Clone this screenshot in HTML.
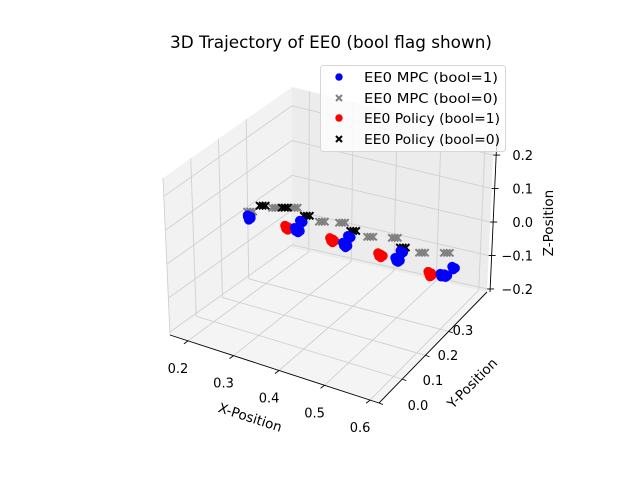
<!DOCTYPE html>
<html><head><meta charset="utf-8"><style>
html,body{margin:0;padding:0;background:#fff;}
svg{display:block;font-family:"DejaVu Sans","Liberation Sans",sans-serif;}
</style></head><body>
<svg id="chart" width="640" height="480" viewBox="0 0 640 480" xmlns="http://www.w3.org/2000/svg">
<text x="331" y="48" font-size="16.5" text-anchor="middle" textLength="322" lengthAdjust="spacingAndGlyphs">3D Trajectory of EE0 (bool flag shown)</text>
<g id="panes"></g>
<g id="grid"></g>
<g id="axes"></g>
<g id="marks"></g>
<text x="250" y="422" font-size="13.5" text-anchor="middle" transform="rotate(18 250 418)">X-Position</text>
<text x="472" y="388" font-size="13.5" text-anchor="middle" transform="rotate(-45 472 383)">Y-Position</text>
<text x="548" y="228" font-size="13.5" text-anchor="middle" transform="rotate(-90 548 223)">Z-Position</text>
<g>
<rect x="320.5" y="65.5" width="185" height="86" rx="3" fill="#fff" fill-opacity="0.8" stroke="#d6d6d6"/>
<g><circle cx="339" cy="77" r="3.7" fill="#0000ff"/><text x="364" y="82" font-size="13" textLength="134" lengthAdjust="spacingAndGlyphs">EE0 MPC (bool=1)</text></g>
<g><path d="M336 95 l6 6 M342 95 l-6 6" stroke="#808080" stroke-width="2"/><text x="364" y="103" font-size="13" textLength="134" lengthAdjust="spacingAndGlyphs">EE0 MPC (bool=0)</text></g>
<g><circle cx="339" cy="118" r="3.7" fill="#ff0000"/><text x="364" y="123" font-size="13" textLength="136" lengthAdjust="spacingAndGlyphs">EE0 Policy (bool=1)</text></g>
<g><path d="M336 136 l6 6 M342 136 l-6 6" stroke="#000" stroke-width="2"/><text x="364" y="144" font-size="13" textLength="136" lengthAdjust="spacingAndGlyphs">EE0 Policy (bool=0)</text></g>
</g>
</svg>
<script>
// ---- data ----
const xTicks = [0.2, 0.3, 0.4, 0.5, 0.6];
const yTicks = [0.0, 0.1, 0.2, 0.3];
const zTicks = [-0.2, -0.1, 0.0, 0.1, 0.2];
const xTickLabels = ["0.2", "0.3", "0.4", "0.5", "0.6"];
const yTickLabels = ["0.0", "0.1", "0.2", "0.3"];
const zTickLabels = ["\u22120.2", "\u22120.1", "0.0", "0.1", "0.2"];
const mpc1X = [0.184, 0.180, 0.287, 0.280, 0.295, 0.401, 0.395, 0.408, 0.522, 0.517, 0.528, 0.640, 0.639, 0.632];
const mpc1Y = [0.262, 0.268, 0.266, 0.298, 0.262, 0.257, 0.287, 0.252, 0.251, 0.281, 0.248, 0.238, 0.272, 0.236];
const mpc1Z = [0, 0, 0, 0, 0, 0, 0, 0, 0, 0, 0, 0, 0, 0];
const pol1X = [0.182, 0.266, 0.272, 0.369, 0.375, 0.483, 0.489, 0.607, 0.612];
const pol1Y = [0.265, 0.265, 0.262, 0.262, 0.258, 0.252, 0.249, 0.232, 0.226];
const pol1Z = [0, 0, 0, 0, 0, 0, 0, 0, 0];
const mpc0X = [0.176, 0.209, 0.242, 0.320, 0.357, 0.436, 0.481, 0.559, 0.603];
const mpc0Y = [0.284, 0.323, 0.342, 0.315, 0.330, 0.304, 0.323, 0.294, 0.316];
const mpc0Z = [0, 0, 0, 0, 0, 0, 0, 0, 0];
const pol0X = [0.183, 0.225, 0.281, 0.394, 0.515];
const pol0Y = [0.319, 0.333, 0.323, 0.310, 0.295];
const pol0Z = [0, 0, 0, 0, 0];

// ---- projection ----
const xLim = [0.1605, 0.6195], yLim = [0.0, 0.465], zLim = [-0.209, 0.254];
const C = {
  c000:[170,335], c100:[379,403], c110:[487,292], c010:[292,248],
  c001:[163,178], c101:[376,228], c111:[494,137], c011:[292,87]
};
function tri(u,v,w){
  const r=[0,0];
  for(let i=0;i<2;i++){
    const a=C.c000[i]*(1-u)+C.c100[i]*u, b=C.c010[i]*(1-u)+C.c110[i]*u;
    const c=C.c001[i]*(1-u)+C.c101[i]*u, d=C.c011[i]*(1-u)+C.c111[i]*u;
    const e=a*(1-v)+b*v, f=c*(1-v)+d*v;
    r[i]=e*(1-w)+f*w;
  }
  return r;
}
const nx = x => (x-xLim[0])/(xLim[1]-xLim[0]);
const ny = y => (y-yLim[0])/(yLim[1]-yLim[0]);
const nz = z => (z-zLim[0])/(zLim[1]-zLim[0]);
function proj(x,y,z){ return tri(nx(x),ny(y),nz(z)); }

const NS="http://www.w3.org/2000/svg";
function mk(tag, parent, attrs){
  const el=document.createElementNS(NS,tag);
  for(const k in attrs) el.setAttribute(k,attrs[k]);
  parent.appendChild(el); return el;
}
const pts = a => a.map(p=>p[0].toFixed(1)+","+p[1].toFixed(1)).join(" ");

// panes
const panes=document.getElementById('panes');
let p;
p=mk('polygon',panes,{points:pts([C.c000,C.c010,C.c011,C.c001]),fill:'#f2f2f2'});


p=mk('polygon',panes,{points:pts([C.c010,C.c110,C.c111,C.c011]),fill:'#ececec'});


p=mk('polygon',panes,{points:pts([C.c000,C.c100,C.c110,C.c010]),fill:'#f4f4f4'});



// grid
const grid=document.getElementById('grid');
function gl(a,b,name){
  const l=mk('line',grid,{x1:a[0],y1:a[1],x2:b[0],y2:b[1],stroke:'#d0d0d0','stroke-width':0.9});
  
  
}
xTicks.forEach(t=>{ const u=nx(t);
  gl(tri(u,0,0),tri(u,1,0),'x-gridline'); gl(tri(u,1,0),tri(u,1,1),'x-gridline'); });
yTicks.forEach(t=>{ const v=ny(t);
  gl(tri(0,v,0),tri(1,v,0),'y-gridline'); gl(tri(0,v,0),tri(0,v,1),'y-gridline'); });
zTicks.forEach(t=>{ const w=nz(t);
  gl(tri(0,0,w),tri(0,1,w),'z-gridline'); gl(tri(0,1,w),tri(1,1,w),'z-gridline'); });

// axes
const axes=document.getElementById('axes');
function al(a,b,name){
  const l=mk('line',axes,{x1:a[0],y1:a[1],x2:b[0],y2:b[1],stroke:'#000','stroke-width':0.9});
  
  
}
function tl(x,y,txt,name,anchor){
  const t=mk('text',axes,{x:x,y:y,'font-size':13,'text-anchor':anchor||'middle'});
  t.textContent=txt;
  
  
}
al(C.c000,C.c100,'x-axis-line');
al(C.c100,C.c110,'y-axis-line');
const zA=[C.c110[0]+3,C.c110[1]], zB=[C.c111[0]+3,C.c111[1]];
al(zA,zB,'z-axis-line');
xTicks.forEach((t,i)=>{ const a=tri(nx(t),0,0);
  al(a,[a[0]-4,a[1]+3],'x-tick');
  tl(a[0]-10,a[1]+32,xTickLabels[i],'x-tick-label'); });
yTicks.forEach((t,i)=>{ const a=tri(1,ny(t),0);
  al(a,[a[0]+4,a[1]+1.5],'y-tick');
  const lx=418+(t-0)/0.3*(463-418), ly=405+(t-0)/0.3*(330-405);
  tl(lx,ly+5,yTickLabels[i],'y-tick-label'); });
zTicks.forEach((t,i)=>{ const w=nz(t); const a=[zA[0]+(zB[0]-zA[0])*w, zA[1]+(zB[1]-zA[1])*w];
  al([a[0]-3,a[1]],[a[0]+4,a[1]],'z-tick');
  tl(533,a[1]+5,zTickLabels[i],'z-tick-label','end'); });

// marks
const marks=document.getElementById('marks');
function dots(X,Y,Z,color,name){
  const g=mk('g',marks,{});
  
  
  X.forEach((x,i)=>{ const q=proj(x,Y[i],Z[i]);
    [[0,0],[3,1.5],[1,3]].forEach(o=>{
      const c=mk('circle',g,{cx:(q[0]+o[0]).toFixed(1),cy:(q[1]+o[1]).toFixed(1),r:4.8,fill:color});
      
      
    });
  });
}
function crosses(X,Y,Z,color,name){
  const g=mk('g',marks,{});
  
  
  X.forEach((x,i)=>{ const q=proj(x,Y[i],Z[i]);
    [-3,0,3].forEach(dx=>{
      const cx=q[0]+dx, cy=q[1];
      const path=mk('path',g,{d:`M${cx-3.6} ${cy-3.6} L${cx+3.6} ${cy+3.6} M${cx+3.6} ${cy-3.6} L${cx-3.6} ${cy+3.6}`,stroke:color,'stroke-width':2});
      
      
    });
  });
}
crosses(mpc0X,mpc0Y,mpc0Z,'#808080','mpc-bool0-series');
crosses(pol0X,pol0Y,pol0Z,'#000000','policy-bool0-series');
dots(pol1X,pol1Y,pol1Z,'#ff0000','policy-bool1-series');
dots(mpc1X,mpc1Y,mpc1Z,'#0000ff','mpc-bool1-series');
</script>
</body></html>
